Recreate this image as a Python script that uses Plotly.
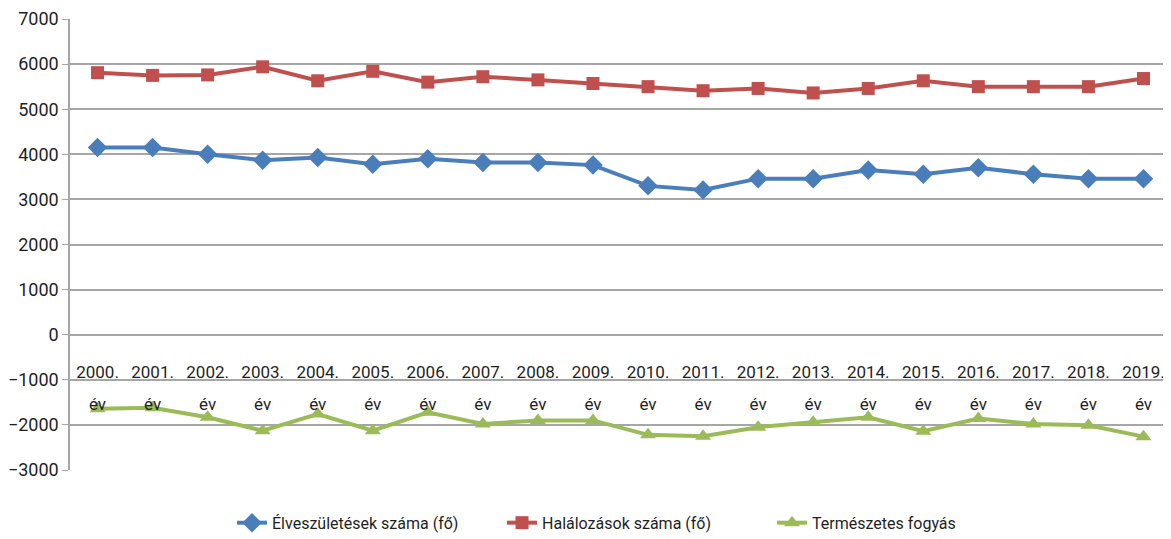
import plotly.graph_objects as go

# évek (kategóriák)
years = [f"{y}." for y in range(2000, 2020)]
year_suffix = ["év"] * len(years)

# Élveszületések száma (fő)
births = [4150, 4150, 4000, 3870, 3930, 3780, 3900, 3820, 3820, 3760,
          3300, 3210, 3460, 3460, 3650, 3560, 3700, 3560, 3460, 3460]

# Halálozások száma (fő)
deaths = [5810, 5750, 5760, 5940, 5630, 5840, 5600, 5720, 5650, 5570,
          5500, 5410, 5460, 5360, 5460, 5630, 5500, 5500, 5500, 5680]

# Természetes fogyás
natural = [-1640, -1620, -1830, -2130, -1760, -2130, -1720, -1980, -1900, -1900,
           -2220, -2250, -2050, -1940, -1830, -2140, -1860, -1980, -2010, -2260]

FONT = "Roboto, Liberation Sans, sans-serif"
GRID = "#a6a6a6"

series = [
    ("Élveszületések száma (fő)", births, "#4a7ebb", "diamond", 15),
    ("Halálozások száma (fő)", deaths, "#c0504d", "square", 13),
    ("Természetes fogyás", natural, "#9bbb59", "triangle-up", 14),
]

fig = go.Figure()
for name, vals, color, symbol, size in series:
    fig.add_trace(
        go.Scatter(
            x=years,
            y=vals,
            mode="lines+markers",
            name=name,
            line=dict(color=color, width=4),
            marker=dict(symbol=symbol, size=size, color=color),
        )
    )

# második sor a kategóriafeliratokhoz ("év")
fig.add_trace(
    go.Scatter(x=years, y=[None] * len(years), xaxis="x2", showlegend=False,
               hoverinfo="skip")
)

# a böngésző 8 px-es body margója miatt a vászon kisebb (1163x531)
fig.update_layout(
    width=1163,
    height=531,
    paper_bgcolor="white",
    plot_bgcolor="white",
    margin=dict(l=62, r=0, t=11, b=69, autoexpand=False),
    font=dict(family=FONT, size=18, color="#1f1f1f"),
    xaxis=dict(
        type="category",
        range=[-0.5, 19.5],
        anchor="free",
        position=0.245,
        showline=False,
        showgrid=False,
        ticks="",
        tickfont=dict(size=17),
        automargin=False,
    ),
    xaxis2=dict(
        type="category",
        overlaying="x",
        matches="x",
        anchor="free",
        position=0.172,
        side="bottom",
        showline=False,
        showgrid=False,
        ticks="",
        tickmode="array",
        tickvals=years,
        ticktext=year_suffix,
        tickfont=dict(size=17),
        automargin=False,
    ),
    yaxis=dict(
        range=[-3000, 7000],
        dtick=1000,
        showgrid=True,
        gridcolor=GRID,
        gridwidth=1.5,
        zeroline=True,
        zerolinecolor=GRID,
        zerolinewidth=1.5,
        showline=True,
        linecolor=GRID,
        linewidth=1.5,
        ticks="outside",
        ticklen=6,
        tickcolor=GRID,
        automargin=False,
    ),
    legend=dict(
        orientation="h",
        x=0.515,
        xanchor="center",
        y=-0.117,
        yanchor="middle",
        font=dict(size=16),
        entrywidth=225,
        entrywidthmode="pixels",
    ),
)

fig.write_html("out.html")
